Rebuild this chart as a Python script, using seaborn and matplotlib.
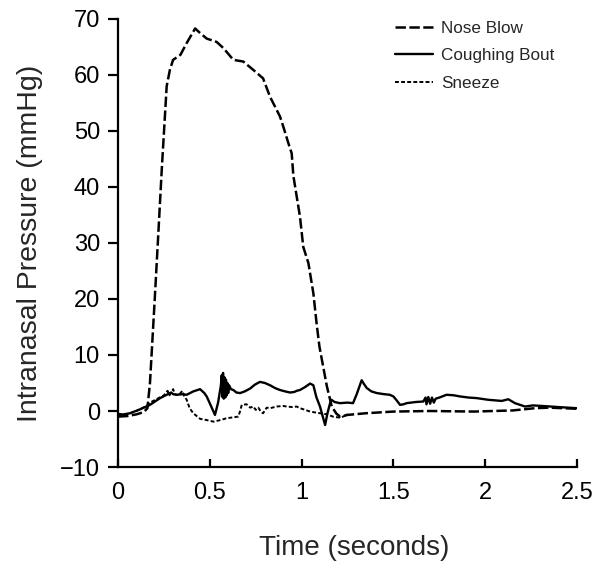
import numpy as np
import pandas as pd
import matplotlib
matplotlib.use("Agg")
import matplotlib.pyplot as plt
import seaborn as sns

# traces (time in s, pressure in mmHg)
nose_t = [0.00, 0.05, 0.10, 0.14, 0.16, 0.174, 0.20, 0.22, 0.238, 0.247, 0.265, 0.283,
          0.30, 0.34, 0.374, 0.42, 0.45, 0.483, 0.537, 0.574, 0.628, 0.682, 0.737, 0.79,
          0.828, 0.882, 0.90, 0.928, 0.946, 0.955, 0.991, 1.009, 1.037, 1.064, 1.082,
          1.097, 1.109, 1.137, 1.164, 1.19, 1.21, 1.25, 1.35, 1.50, 1.70, 1.94, 2.15,
          2.27, 2.35, 2.50]
nose_p = [-1.0, -0.9, -0.6, -0.2, 0.5, 5.0, 20.0, 32.0, 43.0, 48.0, 58.0, 61.0,
          62.7, 63.6, 65.7, 68.3, 67.4, 66.5, 65.9, 64.8, 62.7, 62.4, 60.9, 59.4,
          56.1, 52.6, 50.8, 47.8, 46.0, 42.0, 34.7, 29.3, 26.4, 21.0, 15.5,
          11.5, 9.4, 4.5, 0.8, -0.5, -1.0, -0.7, -0.4, -0.1, 0.0, -0.1, 0.1,
          0.5, 0.6, 0.4]

cough_t = [0.00, 0.03, 0.065, 0.12, 0.174, 0.229, 0.265, 0.29, 0.30, 0.32, 0.35, 0.374,
           0.41, 0.447, 0.47, 0.483, 0.505, 0.528, 0.545, 0.56, 0.565, 0.568, 0.572,
           0.576, 0.580, 0.584, 0.588, 0.592, 0.596, 0.60, 0.605, 0.615, 0.628, 0.645,
           0.665, 0.69, 0.719, 0.745, 0.773, 0.80, 0.828, 0.855, 0.882, 0.91, 0.937,
           0.96, 0.973, 0.991, 1.02, 1.046, 1.064, 1.08, 1.10, 1.128, 1.14, 1.155,
           1.162, 1.18, 1.209, 1.25, 1.28, 1.30, 1.327, 1.34, 1.355, 1.38, 1.41, 1.45,
           1.48, 1.50, 1.52, 1.536, 1.555, 1.572, 1.62, 1.663, 1.675, 1.68, 1.69, 1.70,
           1.71, 1.72, 1.73, 1.75, 1.79, 1.83, 1.863, 1.91, 1.954, 2.017, 2.09, 2.126,
           2.162, 2.217, 2.26, 2.31, 2.40, 2.50]
cough_p = [-0.7, -0.6, -0.4, 0.3, 1.1, 2.3, 2.9, 3.3, 3.0, 2.9, 3.0, 2.9,
           3.5, 3.9, 3.2, 2.6, 1.0, -0.7, 1.5, 4.5, 6.4, 2.5, 6.8,
           2.2, 6.0, 2.4, 5.6, 2.8, 5.0, 3.2, 4.6, 3.9, 3.75, 3.3,
           3.2, 3.5, 4.0, 4.7, 5.2, 5.0, 4.6, 4.1, 3.75, 3.5, 3.3,
           3.4, 3.6, 3.75, 4.3, 4.9, 4.6, 2.5, 0.8, -2.5, -0.5, 1.4,
           2.0, 1.6, 1.4, 1.5, 1.4, 3.0, 5.5, 4.8, 4.1, 3.5, 3.2, 3.0,
           2.9, 2.6, 1.8, 1.1, 1.2, 1.4, 1.6, 1.7, 2.4, 1.2, 2.5, 1.3,
           2.4, 1.5, 2.2, 2.4, 2.9, 2.8, 2.6, 2.4, 2.3, 2.0, 1.8, 2.1,
           1.4, 0.8, 1.0, 0.9, 0.7, 0.5]

sneeze_t = [0.00, 0.05, 0.10, 0.15, 0.18, 0.22, 0.25, 0.27, 0.28, 0.30, 0.31, 0.33,
            0.35, 0.36, 0.374, 0.39, 0.41, 0.447, 0.48, 0.52, 0.56, 0.59, 0.655, 0.665,
            0.674, 0.70, 0.72, 0.737, 0.75, 0.764, 0.78, 0.79, 0.81, 0.828, 0.864, 0.90,
            0.919, 0.95, 0.973, 0.991, 1.02, 1.046, 1.10, 1.14, 1.17, 1.21, 1.24, 1.25]
sneeze_p = [-0.5, -0.6, 0.0, 0.8, 1.6, 2.3, 2.8, 3.6, 2.8, 3.9, 3.0, 2.8,
            3.6, 2.7, 2.0, 0.5, -0.4, -1.4, -1.6, -1.9, -1.6, -1.3, -1.0, 0.0,
            1.1, 1.2, 0.6, 0.8, 0.2, 0.6, -0.2, -0.4, 0.6, 0.5, 0.8, 0.9,
            0.8, 0.7, 0.8, 0.5, 0.2, -0.1, -0.4, -0.6, -1.0, -1.2, -0.8, -0.5]

sns.set_style("ticks")
plt.rcParams['font.family'] = ['Liberation Sans', 'DejaVu Sans']
plt.rcParams['lines.scale_dashes'] = False

fig = plt.figure(figsize=(5.94, 5.63), dpi=100)
ax = fig.add_axes([0.1987, 0.1705, 0.7727, 0.7958])

sns.lineplot(x=nose_t, y=nose_p, ax=ax, color="black", lw=1.8, estimator=None,
             sort=False, linestyle=(0, (7.5, 2.5)), label="Nose Blow")
sns.lineplot(x=cough_t, y=cough_p, ax=ax, color="black", lw=1.7, estimator=None,
             sort=False, label="Coughing Bout")
sns.lineplot(x=sneeze_t, y=sneeze_p, ax=ax, color="black", lw=1.4, estimator=None,
             sort=False, linestyle=(0, (2.8, 1.6)), label="Sneeze")

ax.set_xlim(0, 2.5)
ax.set_ylim(-10, 70)
ax.set_xticks([0, 0.5, 1, 1.5, 2, 2.5])
ax.set_xticklabels(["0", "0.5", "1", "1.5", "2", "2.5"])
ax.set_yticks(np.arange(-10, 71, 10))
sns.despine(ax=ax)
for s in ["left", "bottom"]:
    ax.spines[s].set_linewidth(1.6)
    ax.spines[s].set_color("black")
ax.tick_params(axis="y", direction="out", length=7, width=1.6, labelsize=17, pad=6, colors="black")
ax.tick_params(axis="x", direction="in", length=6, width=1.6, labelsize=17, pad=11, colors="black")

ax.set_xlabel("Time (seconds)", fontsize=20, labelpad=22, x=0.515)
ax.set_ylabel("Intranasal Pressure (mmHg)", fontsize=20.5, labelpad=12)

leg = ax.legend(loc="upper left", bbox_to_anchor=(0.57, 1.03), frameon=False,
                fontsize=12.3, handlelength=2.2, labelspacing=0.72, handletextpad=0.5)

fig.savefig("out.png", dpi=100)
